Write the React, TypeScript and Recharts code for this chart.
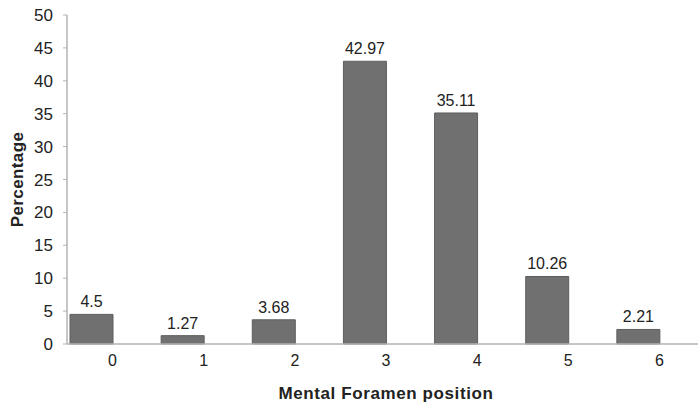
import { Bar, BarChart, LabelList, XAxis, YAxis } from "recharts";

const positions = ["0", "1", "2", "3", "4", "5", "6"];
const percentages = [4.5, 1.27, 3.68, 42.97, 35.11, 10.26, 2.21];
const yTicks = [0, 5, 10, 15, 20, 25, 30, 35, 40, 45, 50];

const data = positions.map((p, i) => ({ position: p, value: percentages[i], blank: 0 }));

const font = "'Liberation Sans', Arial, sans-serif";

export default function App() {
  return (
    <div style={{ position: "absolute", left: 0, top: 0, width: 698, height: 404, overflow: "hidden", background: "#fff" }}>
      <BarChart
        width={720}
        height={404}
        data={data}
        margin={{ top: 15, right: 15, bottom: 0, left: 0 }}
        barGap={0}
        barCategoryGap={3}
        style={{ fontFamily: font }}
      >
        <XAxis
          dataKey="position"
          height={60}
          tickLine={false}
          tickSize={6}
          tickMargin={5}
          axisLine={{ stroke: "#b3b3b3", strokeWidth: 1.5 }}
          tick={{ fill: "#222", fontSize: 16, fontFamily: font }}
          label={{
            value: "Mental Foramen position",
            position: "insideBottom",
            offset: 5,
            style: { fill: "#222", fontSize: 17, fontWeight: "bold", fontFamily: font, letterSpacing: 0.6 },
          }}
        />
        <YAxis
          width={67}
          domain={[0, 50]}
          ticks={yTicks}
          interval={0}
          tickSize={4}
          tickMargin={10}
          axisLine={{ stroke: "#b3b3b3", strokeWidth: 1.5 }}
          tickLine={{ stroke: "#b3b3b3" }}
          tick={{ fill: "#222", fontSize: 17, fontFamily: font }}
          label={({ viewBox }: any) => {
            const cy = viewBox.y + viewBox.height / 2;
            return (
              <text
                x={23}
                y={cy}
                transform={`rotate(-90, 23, ${cy})`}
                textAnchor="middle"
                fill="#222"
                fontSize={17}
                fontWeight="bold"
                fontFamily={font}
                letterSpacing={0.4}
              >
                Percentage
              </text>
            );
          }}
        />
        <Bar dataKey="value" fill="#707070" stroke="#5e5e5e" strokeWidth={1} isAnimationActive={false}>
          <LabelList
            dataKey="value"
            position="top"
            offset={7}
            style={{ fill: "#222", fontSize: 16, fontFamily: font }}
          />
        </Bar>
        <Bar dataKey="blank" fill="transparent" isAnimationActive={false} />
      </BarChart>
    </div>
  );
}
